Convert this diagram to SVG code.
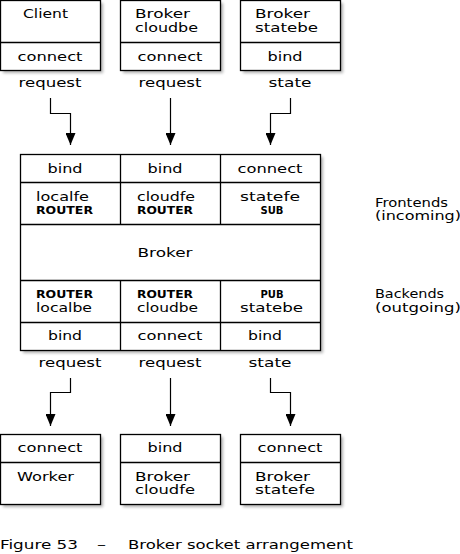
<svg xmlns="http://www.w3.org/2000/svg" width="460" height="554" viewBox="0 0 460 554">
<defs>
<filter id="blur" x="-10%" y="-10%" width="120%" height="120%"><feGaussianBlur stdDeviation="1.5"/></filter>
<marker id="ah" viewBox="0 0 12 10" refX="12" refY="5" markerWidth="12" markerHeight="10" markerUnits="userSpaceOnUse" orient="auto"><path d="M0,0 L12,5 L0,10 z" fill="#000"/></marker>
</defs>
<style>
.box{fill:#fff;stroke:#000;stroke-width:1.3}
.sh{fill:#b0b0b0;filter:url(#blur)}
.div{stroke:#000;stroke-width:1.3;fill:none}
.t{font-family:"DejaVu Sans",sans-serif;font-size:13px;fill:#000}
.c{text-anchor:middle}
.b{font-family:"DejaVu Sans",sans-serif;font-size:10.5px;font-weight:bold;fill:#000}
.s{font-family:"DejaVu Sans",sans-serif;font-size:10px;font-weight:bold;fill:#000;text-anchor:middle}
.con{fill:none;stroke:#000;stroke-width:1.2;marker-end:url(#ah)}
</style>
<rect width="460" height="554" fill="#fff"/>

<g id="client">
<rect class="sh" x="3" y="3" width="100" height="70"/>
<rect class="box" x="0.5" y="0.5" width="100" height="70"/>
<line class="div" x1="0.5" y1="42.5" x2="100.5" y2="42.5"/>
<text class="t" x="23" y="18" textLength="45" lengthAdjust="spacingAndGlyphs">Client</text>
<text class="t c" x="50" y="61" textLength="65" lengthAdjust="spacingAndGlyphs">connect</text>
</g>
<g id="broker-cloudbe">
<rect class="sh" x="123" y="3" width="100" height="70"/>
<rect class="box" x="120.5" y="0.5" width="100" height="70"/>
<line class="div" x1="120.5" y1="42.5" x2="220.5" y2="42.5"/>
<text class="t" x="135" y="18" textLength="55" lengthAdjust="spacingAndGlyphs">Broker</text>
<text class="t" x="135" y="32" textLength="63" lengthAdjust="spacingAndGlyphs">cloudbe</text>
<text class="t c" x="170" y="61" textLength="65" lengthAdjust="spacingAndGlyphs">connect</text>
</g>
<g id="broker-statebe">
<rect class="sh" x="243" y="3" width="100" height="70"/>
<rect class="box" x="240.5" y="0.5" width="100" height="70"/>
<line class="div" x1="240.5" y1="42.5" x2="340.5" y2="42.5"/>
<text class="t" x="255" y="18" textLength="55" lengthAdjust="spacingAndGlyphs">Broker</text>
<text class="t" x="255" y="32" textLength="63" lengthAdjust="spacingAndGlyphs">statebe</text>
<text class="t c" x="285" y="61" textLength="35" lengthAdjust="spacingAndGlyphs">bind</text>
</g>

<g id="broker">
<rect class="sh" x="23" y="157" width="300" height="196"/>
<rect class="box" x="20.5" y="154.5" width="300" height="196"/>
<line class="div" x1="20.5" y1="182.5" x2="320.5" y2="182.5"/>
<line class="div" x1="20.5" y1="224.5" x2="320.5" y2="224.5"/>
<line class="div" x1="20.5" y1="280.5" x2="320.5" y2="280.5"/>
<line class="div" x1="20.5" y1="322.5" x2="320.5" y2="322.5"/>
<line class="div" x1="120.5" y1="154.5" x2="120.5" y2="224.5"/>
<line class="div" x1="220.5" y1="154.5" x2="220.5" y2="224.5"/>
<line class="div" x1="120.5" y1="280.5" x2="120.5" y2="350.5"/>
<line class="div" x1="220.5" y1="280.5" x2="220.5" y2="350.5"/>
<text class="t c" x="65" y="173" textLength="35" lengthAdjust="spacingAndGlyphs">bind</text>
<text class="t c" x="165" y="173" textLength="35" lengthAdjust="spacingAndGlyphs">bind</text>
<text class="t c" x="270" y="173" textLength="65" lengthAdjust="spacingAndGlyphs">connect</text>
<text class="t" x="36" y="201" textLength="53" lengthAdjust="spacingAndGlyphs">localfe</text>
<text class="b" x="36" y="214" textLength="57" lengthAdjust="spacingAndGlyphs">ROUTER</text>
<text class="t" x="137" y="201" textLength="58" lengthAdjust="spacingAndGlyphs">cloudfe</text>
<text class="b" x="137" y="214" textLength="56" lengthAdjust="spacingAndGlyphs">ROUTER</text>
<text class="t" x="240" y="201" textLength="60" lengthAdjust="spacingAndGlyphs">statefe</text>
<text class="s" x="272" y="214">SUB</text>
<text class="t c" x="165" y="257" textLength="55" lengthAdjust="spacingAndGlyphs">Broker</text>
<text class="b" x="36" y="298" textLength="57" lengthAdjust="spacingAndGlyphs">ROUTER</text>
<text class="t" x="36" y="312" textLength="56" lengthAdjust="spacingAndGlyphs">localbe</text>
<text class="b" x="137" y="298" textLength="56" lengthAdjust="spacingAndGlyphs">ROUTER</text>
<text class="t" x="137" y="312" textLength="61" lengthAdjust="spacingAndGlyphs">cloudbe</text>
<text class="s" x="272" y="298">PUB</text>
<text class="t" x="240" y="312" textLength="63" lengthAdjust="spacingAndGlyphs">statebe</text>
<text class="t c" x="65" y="340" textLength="34" lengthAdjust="spacingAndGlyphs">bind</text>
<text class="t c" x="170" y="340" textLength="65" lengthAdjust="spacingAndGlyphs">connect</text>
<text class="t c" x="265" y="340" textLength="34" lengthAdjust="spacingAndGlyphs">bind</text>
</g>

<g id="labels">
<text class="t" x="375" y="207" textLength="73" lengthAdjust="spacingAndGlyphs">Frontends</text>
<text class="t" x="375" y="220" textLength="86" lengthAdjust="spacingAndGlyphs">(incoming)</text>
<text class="t" x="375" y="298" textLength="69" lengthAdjust="spacingAndGlyphs">Backends</text>
<text class="t" x="375" y="312" textLength="86" lengthAdjust="spacingAndGlyphs">(outgoing)</text>
</g>

<g id="worker">
<rect class="sh" x="3" y="437" width="100" height="70"/>
<rect class="box" x="0.5" y="434.5" width="100" height="70"/>
<line class="div" x1="0.5" y1="462.5" x2="100.5" y2="462.5"/>
<text class="t c" x="50" y="452" textLength="65" lengthAdjust="spacingAndGlyphs">connect</text>
<text class="t" x="17" y="481" textLength="57" lengthAdjust="spacingAndGlyphs">Worker</text>
</g>
<g id="broker-cloudfe">
<rect class="sh" x="123" y="437" width="100" height="70"/>
<rect class="box" x="120.5" y="434.5" width="100" height="70"/>
<line class="div" x1="120.5" y1="462.5" x2="220.5" y2="462.5"/>
<text class="t c" x="165" y="452" textLength="35" lengthAdjust="spacingAndGlyphs">bind</text>
<text class="t" x="135" y="481" textLength="55" lengthAdjust="spacingAndGlyphs">Broker</text>
<text class="t" x="135" y="494" textLength="60" lengthAdjust="spacingAndGlyphs">cloudfe</text>
</g>
<g id="broker-statefe">
<rect class="sh" x="243" y="437" width="100" height="70"/>
<rect class="box" x="240.5" y="434.5" width="100" height="70"/>
<line class="div" x1="240.5" y1="462.5" x2="340.5" y2="462.5"/>
<text class="t c" x="290" y="452" textLength="65" lengthAdjust="spacingAndGlyphs">connect</text>
<text class="t" x="255" y="481" textLength="55" lengthAdjust="spacingAndGlyphs">Broker</text>
<text class="t" x="255" y="494" textLength="60" lengthAdjust="spacingAndGlyphs">statefe</text>
</g>

<g id="connectors">
<text class="t c" x="50" y="87" textLength="63" lengthAdjust="spacingAndGlyphs">request</text>
<text class="t c" x="170" y="87" textLength="63" lengthAdjust="spacingAndGlyphs">request</text>
<text class="t c" x="290" y="87" textLength="43" lengthAdjust="spacingAndGlyphs">state</text>
<path class="con" d="M50.5,98 V113.5 H70.5 V145"/>
<path class="con" d="M170.5,98 V145"/>
<path class="con" d="M290.5,98 V113.5 H270.5 V145"/>
<text class="t c" x="70" y="367" textLength="63" lengthAdjust="spacingAndGlyphs">request</text>
<text class="t c" x="170" y="367" textLength="63" lengthAdjust="spacingAndGlyphs">request</text>
<text class="t c" x="270" y="367" textLength="43" lengthAdjust="spacingAndGlyphs">state</text>
<path class="con" d="M70.5,378 V392.5 H50.5 V426"/>
<path class="con" d="M170.5,378 V426"/>
<path class="con" d="M270.5,378 V392.5 H290.5 V426"/>
</g>

<g id="caption">
<text class="t" x="0" y="549" textLength="78" lengthAdjust="spacingAndGlyphs">Figure 53</text>
<text class="t" x="97" y="549" textLength="9" lengthAdjust="spacingAndGlyphs">–</text>
<text class="t" x="128" y="549" textLength="225" lengthAdjust="spacingAndGlyphs">Broker socket arrangement</text>
</g>
</svg>
